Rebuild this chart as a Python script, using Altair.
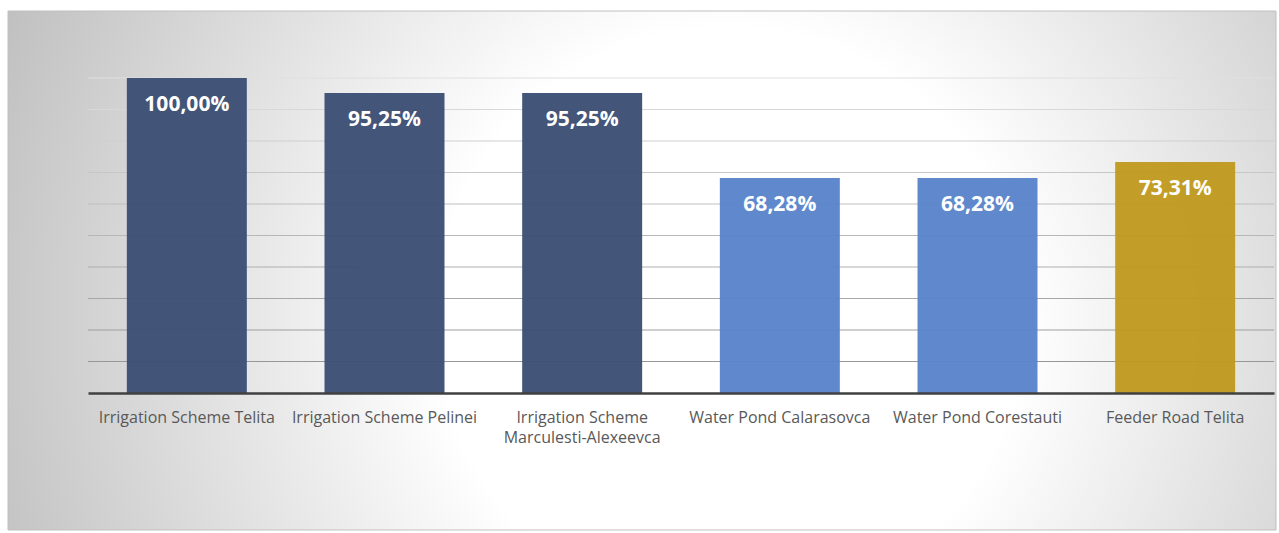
import altair as alt
import pandas as pd

categories = [
    "Irrigation Scheme Telita",
    "Irrigation Scheme Pelinei",
    "Irrigation Scheme Marculesti-Alexeevca",
    "Water Pond Calarasovca",
    "Water Pond Corestauti",
    "Feeder Road Telita",
]
values = [100.00, 95.25, 95.25, 68.28, 68.28, 73.31]
value_labels = ["100,00%", "95,25%", "95,25%", "68,28%", "68,28%", "73,31%"]
groups = ["Irrigation", "Irrigation", "Irrigation", "Water Pond", "Water Pond", "Feeder Road"]
group_names = ["Irrigation", "Water Pond", "Feeder Road"]
group_colors = ["#3b4e74", "#5a84cb", "#c09a20"]
grid_values = [10, 20, 30, 40, 50, 60, 70, 80, 90, 100]

W, H = 1186, 315

df = pd.DataFrame({"category": categories, "value": values, "label": value_labels, "group": groups})
grid_df = pd.DataFrame({"v": grid_values})

yscale = alt.Scale(domain=[0, 100])
xenc = alt.X(
    "category:N",
    sort=categories,
    scale=alt.Scale(paddingInner=0.393, paddingOuter=0.1965),
    axis=alt.Axis(
        title=None,
        labelAngle=0,
        ticks=False,
        domainColor="#404040",
        domainWidth=2.5,
        labelFont="Open Sans",
        labelFontSize=16,
        labelColor="#595959",
        labelPadding=16,
        labelLineHeight=20,
        labelLimit=400,
        labelBaseline="top",
        zindex=1,
        labelExpr="datum.label == 'Irrigation Scheme Marculesti-Alexeevca' ? ['Irrigation Scheme', 'Marculesti-Alexeevca'] : datum.label",
    ),
)

bg = alt.Chart(pd.DataFrame({"a": [0]})).mark_rect(
    fill=alt.RadialGradient(
        gradient="radial",
        stops=[alt.GradientStop(offset=0, color="#ffffff"), alt.GradientStop(offset=1, color="#c0c0c0")],
        x1=0.569, y1=0.539, r1=0.23,
        x2=0.569, y2=0.539, r2=0.62,
    ),
    stroke="#c0c0c0",
    strokeWidth=1,
).encode(x=alt.value(-80), x2=alt.value(W + 2), y=alt.value(-67), y2=alt.value(H + 137))

grid = alt.Chart(grid_df).mark_rule(strokeWidth=1).encode(
    y=alt.Y("v:Q", scale=yscale, axis=None),
    stroke=alt.Stroke("v:Q", scale=alt.Scale(domain=[0, 100], range=["#8f8f8f", "#e0e0e0"]), legend=None),
)

bars = alt.Chart(df).mark_bar(opacity=0.96).encode(
    x=xenc,
    y=alt.Y("value:Q", scale=yscale, axis=None),
    fill=alt.Fill("group:N", scale=alt.Scale(domain=group_names, range=group_colors), legend=None),
)

text = alt.Chart(df).mark_text(
    color="white", font="Open Sans", fontWeight="bold", fontSize=21, baseline="middle", dy=27
).encode(
    x=alt.X("category:N", sort=categories),
    y=alt.Y("value:Q", scale=yscale),
    text="label:N",
)

chart = alt.layer(bg, grid, bars, text).properties(
    width=W,
    height=H,
    padding={"left": 88, "top": 78, "right": 5, "bottom": 140},
    autosize=alt.AutoSizeParams(type="none"),
    background="white",
).configure_view(stroke=None)

chart.save("out.html", embed_options={"renderer": "svg", "actions": False})
